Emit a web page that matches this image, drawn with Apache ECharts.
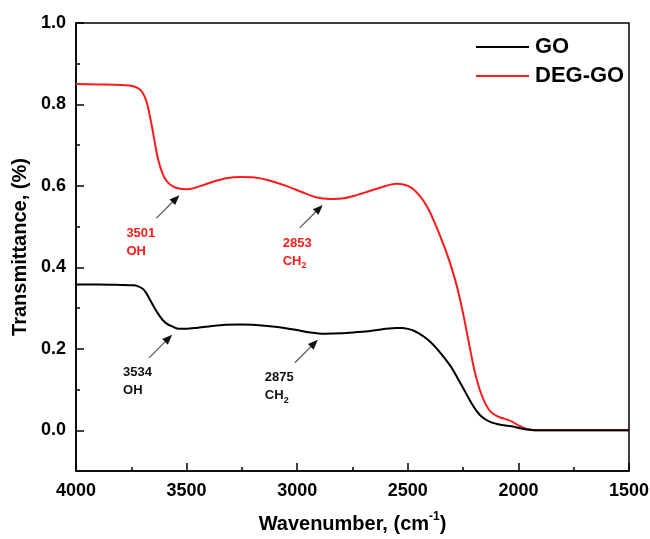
<!DOCTYPE html>
<html>
<head>
<meta charset="utf-8">
<script src="https://cdn.jsdelivr.net/npm/echarts@6/dist/echarts.min.js"></script>
<style>
  html, body { margin: 0; padding: 0; background: #fff; }
  #chart { width: 650px; height: 539px; }
</style>
</head>
<body>
<div id="chart"></div>
<script>
// FTIR spectra of GO and DEG-GO (transmittance vs. wavenumber)
const goWavenumber = [4000, 3900, 3800, 3740, 3722, 3700, 3686, 3670, 3650, 3630, 3610, 3590, 3565, 3534, 3500, 3450, 3400, 3325, 3260, 3200, 3100, 3000, 2940, 2875, 2800, 2730, 2670, 2600, 2550, 2525, 2500, 2475, 2450, 2425, 2400, 2375, 2350, 2325, 2300, 2275, 2250, 2225, 2200, 2175, 2150, 2125, 2100, 2075, 2050, 2025, 2000, 1975, 1950, 1925, 1900, 1800, 1700, 1600, 1500];
const goTransmittance = [0.358, 0.358, 0.357, 0.356, 0.354, 0.348, 0.340, 0.325, 0.305, 0.287, 0.272, 0.262, 0.255, 0.249, 0.249, 0.252, 0.255, 0.259, 0.260, 0.259, 0.254, 0.246, 0.240, 0.237, 0.238, 0.241, 0.244, 0.249, 0.251, 0.251, 0.249, 0.245, 0.238, 0.229, 0.218, 0.204, 0.188, 0.171, 0.152, 0.128, 0.104, 0.079, 0.056, 0.038, 0.027, 0.020, 0.016, 0.013, 0.011, 0.009, 0.006, 0.003, 0.001, 0.000, 0.000, 0.000, 0.000, 0.000, 0.000];

const degWavenumber = [4000, 3900, 3800, 3750, 3720, 3700, 3680, 3660, 3645, 3630, 3610, 3590, 3560, 3530, 3501, 3470, 3420, 3370, 3320, 3257, 3200, 3130, 3050, 2980, 2920, 2853, 2800, 2740, 2670, 2600, 2550, 2525, 2500, 2475, 2450, 2425, 2400, 2375, 2350, 2325, 2300, 2275, 2250, 2225, 2200, 2175, 2150, 2125, 2100, 2075, 2050, 2025, 2000, 1975, 1950, 1925, 1900, 1800, 1700, 1600, 1500];
const degTransmittance = [0.850, 0.849, 0.848, 0.846, 0.840, 0.830, 0.805, 0.755, 0.710, 0.668, 0.632, 0.612, 0.598, 0.593, 0.592, 0.594, 0.603, 0.612, 0.619, 0.622, 0.621, 0.614, 0.600, 0.585, 0.573, 0.568, 0.569, 0.576, 0.588, 0.600, 0.605, 0.604, 0.600, 0.592, 0.578, 0.560, 0.536, 0.505, 0.472, 0.436, 0.395, 0.347, 0.287, 0.218, 0.150, 0.100, 0.066, 0.045, 0.036, 0.030, 0.026, 0.020, 0.012, 0.006, 0.002, 0.000, 0.000, 0.000, 0.000, 0.000, 0.000];

const seriesNames = ['GO', 'DEG-GO'];
const yLabelValues = [0, 0.2, 0.4, 0.6, 0.8, 1.0];
const yMinorValues = [0.1, 0.3, 0.5, 0.7, 0.9];

// Band assignments marked with arrows
const peakWavenumber = [3501, 2853, 3534, 2875];
const peakGroup = ['OH', 'CH2', 'OH', 'CH2'];
const peakSeries = ['DEG-GO', 'DEG-GO', 'GO', 'GO'];

const FONT = '"Liberation Sans", Arial, Helvetica, sans-serif';
const RED = '#ff1a1a';

function pairs(xs, ys) { return xs.map((x, i) => [x, ys[i]]); }

const chart = echarts.init(document.getElementById('chart'), null, { renderer: 'canvas' });

chart.setOption({
  animation: false,
  backgroundColor: '#fff',
  grid: {
    left: 76, right: 21, top: 23, bottom: 68,
    outerBoundsMode: 'none',
    containLabel: false,
    show: true, borderColor: '#000', borderWidth: 1.5, backgroundColor: 'transparent'
  },
  legend: {
    orient: 'vertical',
    left: 471, top: 31,
    itemWidth: 53, itemHeight: 14, itemGap: 7,
    icon: 'path://M0,6 L53,6 L53,8 L0,8 Z',
    textStyle: { fontFamily: FONT, fontWeight: 'bold', fontSize: 22, color: '#000', lineHeight: 22, padding: [0, 0, 0, 1] },
    data: seriesNames
  },
  xAxis: {
    type: 'value',
    inverse: true,
    min: 1500, max: 4000, interval: 500,
    name: 'Wavenumber, (cm{sup|-1})',
    nameLocation: 'middle', nameGap: 40,
    nameTextStyle: {
      fontFamily: FONT, fontWeight: 'bold', fontSize: 20, color: '#000',
      rich: { sup: { fontFamily: FONT, fontWeight: 'bold', fontSize: 12, color: '#000', verticalAlign: 'top', lineHeight: 26 } }
    },
    axisLine: { show: true, onZero: false, lineStyle: { color: '#000', width: 1.5 } },
    axisTick: { show: true, inside: true, length: 8, lineStyle: { color: '#000', width: 1.5 } },
    minorTick: { show: true, splitNumber: 2, length: 4, lineStyle: { color: '#000', width: 1.5 } },
    axisLabel: { margin: 11, fontFamily: FONT, fontWeight: 'bold', fontSize: 18, color: '#000', formatter: v => String(v) },
    splitLine: { show: false }
  },
  yAxis: [{
    type: 'value',
    min: -0.1, max: 1.0, interval: 0.1,
    name: 'Transmittance, (%)',
    nameLocation: 'middle', nameGap: 45,
    nameTextStyle: { fontFamily: FONT, fontWeight: 'bold', fontSize: 20, color: '#000' },
    axisLine: { show: true, onZero: false, lineStyle: { color: '#000', width: 1.5 } },
    axisTick: { show: true, inside: true, length: 8, customValues: yLabelValues, lineStyle: { color: '#000', width: 1.5 } },
    axisLabel: {
      margin: 10, fontFamily: FONT, fontWeight: 'bold', fontSize: 18, color: '#000',
      customValues: yLabelValues,
      formatter: v => v.toFixed(1)
    },
    splitLine: { show: false }
  }, {
    type: 'value',
    position: 'left',
    min: -0.1, max: 1.0, interval: 0.1,
    axisLine: { show: false },
    axisTick: { show: true, inside: true, length: 4, customValues: yMinorValues, lineStyle: { color: '#000', width: 1.5 } },
    axisLabel: { show: false },
    splitLine: { show: false }
  }],
  series: [{
    name: 'GO', type: 'line', yAxisIndex: 0,
    data: pairs(goWavenumber, goTransmittance),
    smooth: 0.3, showSymbol: false, symbol: 'none',
    lineStyle: { color: '#000', width: 2 },
    itemStyle: { color: '#000' },
    z: 3
  }, {
    name: 'DEG-GO', type: 'line', yAxisIndex: 0,
    data: pairs(degWavenumber, degTransmittance),
    smooth: 0.3, showSymbol: false, symbol: 'none',
    lineStyle: { color: RED, width: 2 },
    itemStyle: { color: RED },
    z: 2
  }]
});

// Arrows and band labels placed relative to each marked point on its curve
const labelShiftX = [-60, -47, -56, -60];
const headOffset = [-7, 6];
const tailOffset = [-30, 29];

function valueAt(name, wn) {
  const xs = name === 'GO' ? goWavenumber : degWavenumber;
  const ys = name === 'GO' ? goTransmittance : degTransmittance;
  return ys[xs.indexOf(wn)];
}

const graphics = [];
peakWavenumber.forEach((wn, i) => {
  const name = peakSeries[i];
  const p = chart.convertToPixel({ gridIndex: 0 }, [wn, valueAt(name, wn)]);
  const hx = p[0] + headOffset[0], hy = p[1] + headOffset[1];
  const tx = p[0] + tailOffset[0], ty = p[1] + tailOffset[1];
  const dx = hx - tx, dy = hy - ty, len = Math.hypot(dx, dy);
  const ux = dx / len, uy = dy / len;
  const headLen = 10, headHalf = 4;
  const bx = hx - ux * headLen, by = hy - uy * headLen;
  graphics.push({
    type: 'line', silent: true,
    shape: { x1: tx, y1: ty, x2: bx, y2: by },
    style: { stroke: '#555', lineWidth: 1.2 }
  });
  graphics.push({
    type: 'polygon', silent: true,
    shape: { points: [[hx, hy], [bx - uy * headHalf, by + ux * headHalf], [bx + uy * headHalf, by - ux * headHalf]] },
    style: { fill: '#111' }
  });
  const color = name === 'GO' ? '#111' : RED;
  const group = peakGroup[i] === 'CH2' ? '{t|CH}{s|2}' : '{t|OH}';
  graphics.push({
    type: 'text', silent: true,
    x: p[0] + labelShiftX[i], y: p[1] + 35,
    style: {
      text: '{t|' + wn + '}\n' + group,
      fill: color,
      rich: {
        t: { fontFamily: FONT, fontWeight: 'bold', fontSize: 13, fill: color, lineHeight: 18 },
        s: { fontFamily: FONT, fontWeight: 'bold', fontSize: 9, fill: color, lineHeight: 18, verticalAlign: 'bottom', padding: [6, 0, 0, 0] }
      }
    }
  });
});
chart.setOption({ graphic: graphics });
</script>
</body>
</html>
